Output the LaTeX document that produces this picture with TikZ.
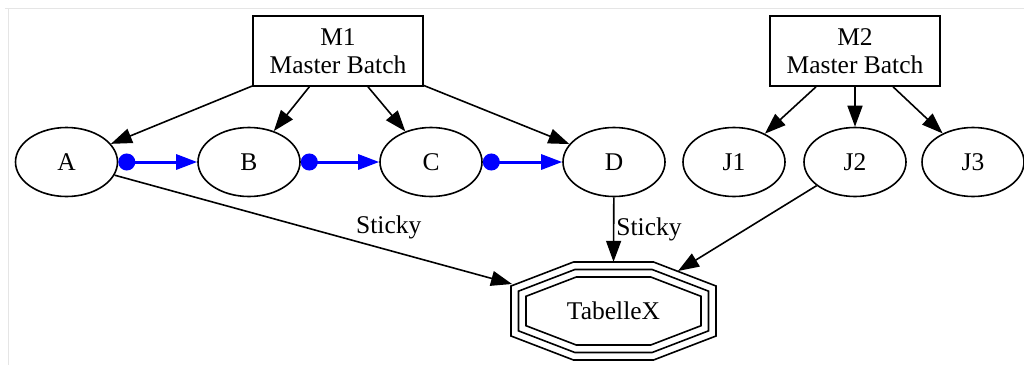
\documentclass[tikz,border=0pt]{standalone}
\usepackage{fontspec}
\setmainfont{Liberation Serif}
\usetikzlibrary{shapes.geometric,arrows.meta,calc}
\tikzset{
  every node/.style={font=\fontsize{25.5}{28}\selectfont},
  ell/.style={draw, ellipse, line width=1.6pt, minimum width=102pt, minimum height=69pt, inner sep=0pt},
  mbox/.style={draw, rectangle, line width=1.6pt, minimum width=170pt, minimum height=70pt, align=center, inner sep=0pt},
  arr/.style={line width=1.6pt, -{Triangle[length=21pt,width=15pt]}},
  seq/.style={line width=3pt, draw=blue, {Circle[length=17pt]}-{Triangle[length=21pt,width=15pt]}},
  lbl/.style={inner sep=0pt},
  frame/.style={draw=black!10, line width=1pt}
}
\begin{document}
\begin{tikzpicture}[x=1pt,y=-1pt]
\useasboundingbox (0,0) rectangle (1024,365);
\draw[frame] (5,8) -- (1024,8);
\draw[frame] (8,8) -- (8,365);

\node[mbox] (M1) at (338,51) {M1\\Master Batch};
\node[mbox] (M2) at (855,51) {M2\\Master Batch};

\node[ell] (A) at (66.5,162) {A};
\node[ell] (B) at (249,162) {B};
\node[ell] (C) at (431,162) {C};
\node[ell] (D) at (614,162) {D};
\node[ell] (J1) at (734,162) {J1};
\node[ell] (J2) at (855,162) {J2};
\node[ell] (J3) at (973,162) {J3};

% triple octagon
\node[minimum width=205pt, minimum height=98pt, inner sep=0pt] (T) at (613.5,311) {TabelleX};
\foreach \d in {0,7.5,15}{
  \pgfmathsetmacro{\tx}{40-0.184*\d}
  \pgfmathsetmacro{\ty}{49-\d}
  \pgfmathsetmacro{\sx}{102.5-\d}
  \pgfmathsetmacro{\sy}{25-0.686*\d}
  \draw[line width=1.6pt, line join=miter] ($(T.center)+(-\tx,-\ty)$) -- ($(T.center)+(\tx,-\ty)$)
    -- ($(T.center)+(\sx,-\sy)$) -- ($(T.center)+(\sx,\sy)$)
    -- ($(T.center)+(\tx,\ty)$) -- ($(T.center)+(-\tx,\ty)$)
    -- ($(T.center)+(-\sx,\sy)$) -- ($(T.center)+(-\sx,-\sy)$) -- cycle;
}
\coordinate (tA) at (512,284);
\coordinate (tJ2) at (678,271);

\draw[arr] (M1) -- (A);
\draw[arr] (M1) -- (B);
\draw[arr] (M1) -- (C);
\draw[arr] (M1) -- (D);
\draw[arr] (M2) -- (J1);
\draw[arr] (M2) -- (J2);
\draw[arr] (M2) -- (J3);

\draw[seq] (A) -- (B);
\draw[seq] (B) -- (C);
\draw[seq] (C) -- (D);

\draw[arr] (A) -- node[lbl, pos=0.69, above=10pt] (l1) {Sticky} (tA);
\draw[arr] (D) -- node[lbl, pos=0.5, right=2pt] (l2) {Sticky} (T.north);
\draw[arr] (J2) -- (tJ2);
\end{tikzpicture}
\end{document}
